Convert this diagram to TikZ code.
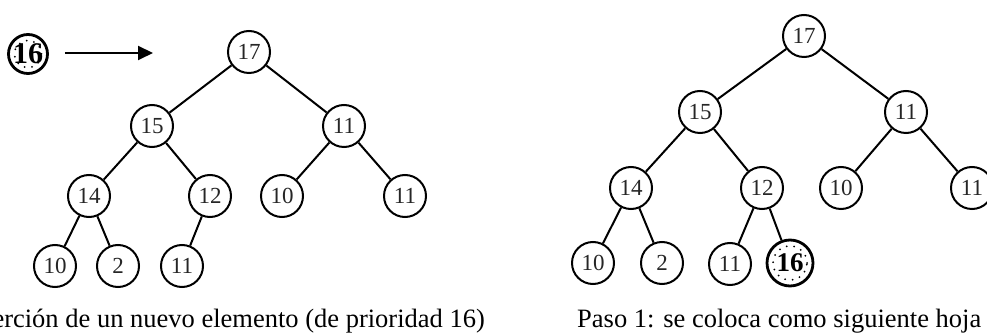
\documentclass[tikz,border=0pt]{standalone}
\usepackage{fontspec}
\setmainfont{Liberation Serif}
\usetikzlibrary{arrows.meta}
\begin{document}
\begin{tikzpicture}[x=1pt,y=-1pt,
  nd/.style={circle,draw,line width=2pt,minimum size=42pt,inner sep=0pt,
    text=black!85,font=\fontsize{23}{23}\selectfont},
  ed/.style={line width=2pt},
  newnd/.style 2 args={circle,draw,line width=2.8pt,minimum size=#1,inner sep=0pt,
    font=\fontsize{#2}{#2}\selectfont\bfseries,
    path picture={\draw[line width=2pt,line cap=round,dash pattern=on 0pt off 7.5pt]
      (path picture bounding box.center) circle ({#1/2-6pt});}},
  caption/.style={font=\fontsize{26.5}{30}\selectfont,inner sep=0pt},
  arr/.style={line width=2pt,-{Triangle[length=15pt,width=14pt]}}]
\useasboundingbox (0,0) rectangle (987,336);
% ---------- left tree ----------
\node[nd] (a17) at (249,52) {17};
\node[nd] (a15) at (152,126) {15};
\node[nd] (a11) at (344,126) {11};
\node[nd] (a14) at (89,196) {14};
\node[nd] (a12) at (210,196) {12};
\node[nd] (a10) at (282,196) {10};
\node[nd] (a11b) at (405,196) {11};
\node[nd] (a10b) at (55,266) {10};
\node[nd] (a2) at (118,266) {2};
\node[nd] (a11c) at (182,266) {11};
\node[newnd={39pt}{30}] (a16) at (28,54) {16};
\coordinate (tip) at (153,53);
\draw[arr] ([xshift=16pt]a16.east |- tip) -- (tip);
\draw[ed] (a17) -- (a15);
\draw[ed] (a17) -- (a11);
\draw[ed] (a15) -- (a14);
\draw[ed] (a15) -- (a12);
\draw[ed] (a11) -- (a10);
\draw[ed] (a11) -- (a11b);
\draw[ed] (a14) -- (a10b);
\draw[ed] (a14) -- (a2);
\draw[ed] (a12) -- (a11c);
\node[caption,anchor=base east] (capA) at (485,327) {Inserción de un nuevo elemento (de prioridad 16)};
% ---------- right tree ----------
\node[nd] (b17) at (804,36) {17};
\node[nd] (b15) at (700,112) {15};
\node[nd] (b11) at (906,112) {11};
\node[nd] (b14) at (631,188) {14};
\node[nd] (b12) at (762,188) {12};
\node[nd] (b10) at (841,188) {10};
\node[nd] (b11b) at (972,188) {11};
\node[nd] (b10b) at (593,263) {10};
\node[nd] (b2) at (662,263) {2};
\node[nd] (b11c) at (730,264) {11};
\node[newnd={46pt}{27}] (b16) at (790,263) {16};
\draw[ed] (b17) -- (b15);
\draw[ed] (b17) -- (b11);
\draw[ed] (b15) -- (b14);
\draw[ed] (b15) -- (b12);
\draw[ed] (b11) -- (b10);
\draw[ed] (b11) -- (b11b);
\draw[ed] (b14) -- (b10b);
\draw[ed] (b14) -- (b2);
\draw[ed] (b12) -- (b11c);
\draw[ed] (b12) -- (b16);
\node[caption,anchor=base west] (capB) at (577,327) {Paso 1: se coloca como siguiente hoja};
\end{tikzpicture}
\end{document}
